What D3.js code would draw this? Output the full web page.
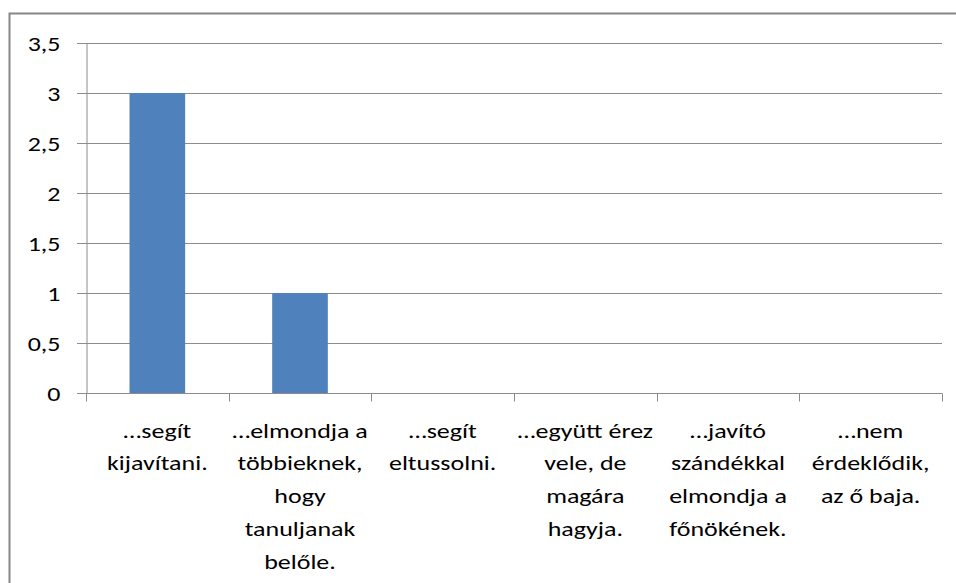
<!DOCTYPE html>
<html>
<head>
<meta charset="utf-8">
<script src="https://cdn.jsdelivr.net/npm/d3@7"></script>
<style>
  body { margin: 0; background: #fff; }
  svg { display: block; font-family: Carlito, Lato, "Open Sans", sans-serif; }
</style>
</head>
<body>
<div id="chart"></div>
<script>
const categories = [
  ['…segít', 'kijavítani.'],
  ['…elmondja a', 'többieknek,', 'hogy', 'tanuljanak', 'belőle.'],
  ['…segít', 'eltussolni.'],
  ['…együtt érez', 'vele, de', 'magára', 'hagyja.'],
  ['…javító', 'szándékkal', 'elmondja a', 'főnökének.'],
  ['…nem', 'érdeklődik,', 'az ő baja.']
];
const values = [3, 1, 0, 0, 0, 0];
const yTicks = [0, 0.5, 1, 1.5, 2, 2.5, 3, 3.5];

const width = 956;
const height = 583;
const margin = { top: 43, right: 14, bottom: 190, left: 86 };
const stretch = 1.3; // the original picture is stretched sideways

const svg = d3.select('#chart')
  .append('svg')
  .attr('width', width)
  .attr('height', height);

// outer frame
svg.append('rect')
  .attr('x', 9.5)
  .attr('y', 13.5)
  .attr('width', 960)
  .attr('height', 600)
  .attr('fill', 'none')
  .attr('stroke', '#868686')
  .attr('stroke-width', 2);

const keys = categories.map((c, i) => i);

const x = d3.scaleBand()
  .domain(keys)
  .range([margin.left, width - margin.right])
  .paddingInner(0.61)
  .paddingOuter(0.305);

const xCat = d3.scaleBand()
  .domain(keys)
  .range([margin.left, width - margin.right]);

const y = d3.scaleLinear()
  .domain([0, 3.5])
  .range([height - margin.bottom, margin.top]);

const fmt = (d) => String(d).replace('.', ',');

// gridlines
svg.append('g')
  .selectAll('line').data(yTicks.filter(d => d > 0))
  .enter().append('line')
    .attr('x1', margin.left - 9)
    .attr('x2', width - margin.right)
    .attr('y1', d => Math.round(y(d)) + 0.5)
    .attr('y2', d => Math.round(y(d)) + 0.5)
    .attr('stroke', '#8c8c8c')
    .attr('stroke-width', 1);

// bars
svg.append('g')
  .selectAll('rect').data(values)
  .enter().append('rect')
    .attr('x', (d, i) => x(i))
    .attr('y', d => y(d))
    .attr('width', x.bandwidth())
    .attr('height', d => y(0) - y(d))
    .attr('fill', '#4f81bd');

// y axis
const yAxis = svg.append('g')
  .attr('transform', `translate(${margin.left + 0.5},0)`)
  .call(d3.axisLeft(y).tickValues(yTicks).tickFormat(fmt).tickSize(9).tickSizeOuter(0));
yAxis.attr('font-family', null);
yAxis.select('.domain').attr('stroke', '#8c8c8c');
yAxis.selectAll('.tick line').attr('stroke', '#8c8c8c');
yAxis.selectAll('.tick text')
  .attr('x', 0)
  .attr('dy', '0.36em')
  .attr('transform', `translate(-26,0) scale(${stretch},1)`)
  .attr('font-size', 20)
  .attr('fill', '#000');

// x axis
const xAxis = svg.append('g')
  .attr('transform', `translate(0,${y(0) + 0.5})`);
xAxis.append('line')
  .attr('x1', margin.left - 9)
  .attr('x2', width - margin.right)
  .attr('stroke', '#8c8c8c');
const bounds = keys.map(k => xCat(k)).concat([width - margin.right]);
xAxis.selectAll('.xtick').data(bounds)
  .enter().append('line')
    .attr('x1', d => Math.round(d) + 0.5)
    .attr('x2', d => Math.round(d) + 0.5)
    .attr('y1', 0)
    .attr('y2', 8)
    .attr('stroke', '#8c8c8c');

const labels = xAxis.selectAll('text').data(categories)
  .enter().append('text')
    .attr('transform', (d, i) => `translate(${xCat(i) + xCat.bandwidth() / 2},44) scale(${stretch},1)`)
    .attr('text-anchor', 'middle')
    .attr('font-size', 20)
    .attr('fill', '#000');
labels.selectAll('tspan').data(d => d)
  .enter().append('tspan')
    .attr('x', 0)
    .attr('dy', (d, i) => i === 0 ? 0 : 33)
    .text(d => d);
</script>
</body>
</html>
